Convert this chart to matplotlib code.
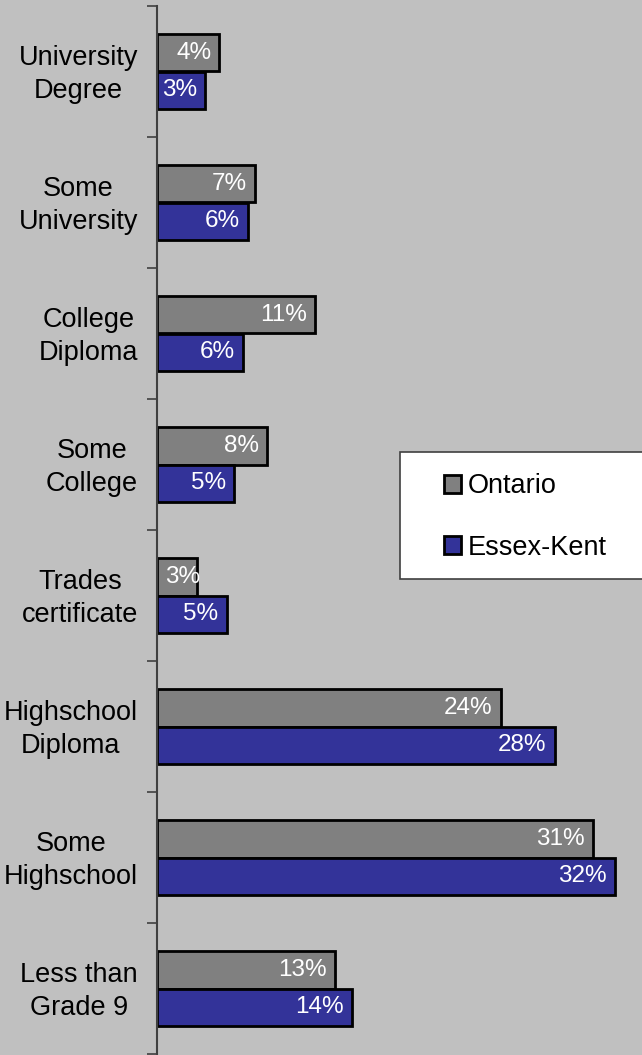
import matplotlib
matplotlib.use("Agg")
import matplotlib.pyplot as plt
from matplotlib.patches import Patch, Rectangle
import matplotlib.transforms as mtransforms

categories = ["University\nDegree", "Some\nUniversity", "College\nDiploma", "Some\nCollege",
              "Trades\ncertificate", "Highschool\nDiploma", "Some\nHighschool", "Less than\nGrade 9"]
ontario = [4.4, 6.9, 11.1, 7.75, 2.8, 24.2, 30.7, 12.55]
essex_kent = [3.4, 6.4, 6.05, 5.4, 4.9, 28.0, 32.25, 13.7]
ontario_labels = ["4%", "7%", "11%", "8%", "3%", "24%", "31%", "13%"]
essex_labels = ["3%", "6%", "6%", "5%", "5%", "28%", "32%", "14%"]
series_names = ["Ontario", "Essex-Kent"]

plt.rcParams['font.family'] = ['Liberation Sans', 'DejaVu Sans']

W, H = 642, 1055
fig = plt.figure(figsize=(W/100, H/100), dpi=100)
fig.patch.set_facecolor("#C0C0C0")
ax = fig.add_axes([157/W, 1 - 1054/H, (W - 157)/W, (1054 - 6)/H])
ax.set_facecolor("#C0C0C0")

bh = 0.285
pos = list(range(len(categories)))
c_ont = "#808080"
c_ek = "#333399"
ax.barh([p - bh/2 for p in pos], ontario, height=bh, color=c_ont, edgecolor="black", linewidth=2)
ax.barh([p + bh/2 for p in pos], essex_kent, height=bh, color=c_ek, edgecolor="black", linewidth=2)

ax.set_xlim(0, 485/14.2)
ax.set_ylim(len(categories) - 0.5, -0.5)

off_in = mtransforms.offset_copy(ax.transData, fig=fig, x=-8, y=0, units='dots')
off_start = mtransforms.offset_copy(ax.transData, fig=fig, x=8, y=0, units='dots')

def label(v, y, lab):
    if v < 3.0:
        ax.text(0, y, lab, transform=off_start, ha='left', va='center', color='white', fontsize=17.5)
    else:
        ax.text(v, y, lab, transform=off_in, ha='right', va='center', color='white', fontsize=17.5)

for p, v, lab in zip(pos, ontario, ontario_labels):
    label(v, p - bh/2, lab)
for p, v, lab in zip(pos, essex_kent, essex_labels):
    label(v, p + bh/2, lab)

# category labels
for p, cat in zip(pos, categories):
    ax.text(-19/485, p + 0.02, cat, transform=ax.get_yaxis_transform(), ha='right', va='center',
            multialignment='center', fontsize=19.5, color='black', linespacing=1.35)

for s in ["top", "right", "bottom"]:
    ax.spines[s].set_visible(False)
ax.spines["left"].set_color("#404040")
ax.spines["left"].set_linewidth(1.5)
ax.set_xticks([])
ax.set_yticks([p - 0.5 for p in pos] + [len(categories) - 0.5])
ax.set_yticklabels([])
ax.tick_params(axis='y', length=7, width=1.2, color="#404040", direction='out')

# legend frame
frame = Rectangle((400/W, 1 - 579/H), 250/W, 127/H, transform=fig.transFigure,
                  facecolor='white', edgecolor='#404040', linewidth=1.2, zorder=5)
fig.patches.append(frame)

handles = [Patch(facecolor=c_ont, edgecolor='black', linewidth=2),
           Patch(facecolor=c_ek, edgecolor='black', linewidth=2)]
leg = fig.legend(handles, series_names, loc='center left',
                 bbox_to_anchor=(444/W, 1 - 517/H), fontsize=19.5, frameon=False,
                 handlelength=0.63, handleheight=0.63, handletextpad=0.26, labelspacing=1.3,
                 borderpad=0, borderaxespad=0)
leg.set_zorder(6)

fig.savefig("out.png", dpi=100, facecolor=fig.get_facecolor())
